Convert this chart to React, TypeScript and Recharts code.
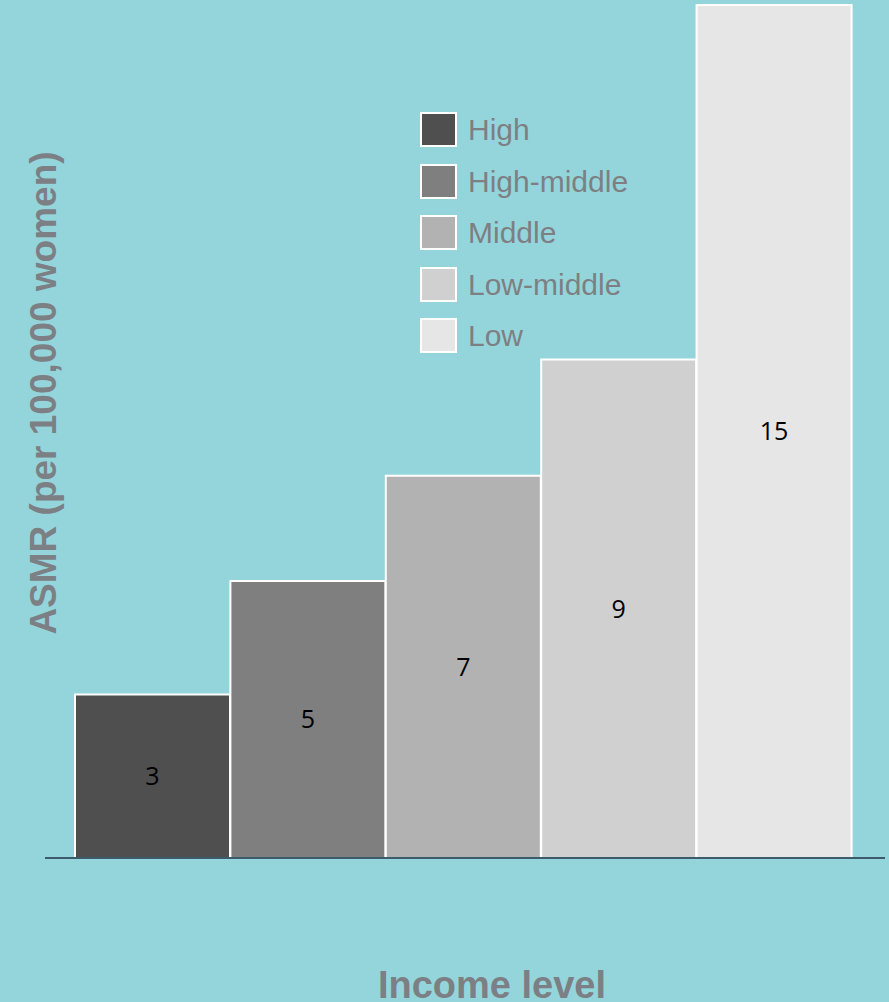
import React from "react"
import { BarChart, Bar, XAxis, YAxis, Cell, LabelList } from "recharts"

// income groups, left to right
const categories = ["High", "High-middle", "Middle", "Low-middle", "Low"]
// ASMR (labels show rounded numbers)
const asmr = [2.95, 5.0, 6.9, 9.0, 15.4]
const barLabels = ["3", "5", "7", "9", "15"]
const fills = ["#4f4f4f", "#7f7f7f", "#b2b2b2", "#d0d0d0", "#e6e6e6"]

const data = categories.map((name, i) => ({ name, value: asmr[i], label: barLabels[i] }))

const BG = "#94d5dc"
const TITLE = "#7c7f84"

export default function App() {
  return (
    <div
      style={{
        position: "absolute",
        left: 0,
        top: 0,
        width: 889,
        height: 1002,
        background: BG,
        overflow: "hidden",
        fontFamily: "'Liberation Sans', Arial, sans-serif",
      }}
    >
      <BarChart
        width={889}
        height={1002}
        data={data}
        margin={{ top: 5, right: 4, bottom: 114, left: 45 }}
        barCategoryGap={0}
      >
        <XAxis
          dataKey="name"
          tick={false}
          tickLine={false}
          height={30}
          padding={{ left: 30, right: 33 }}
          axisLine={{ stroke: "#3e5b6b", strokeWidth: 2 }}
        />
        <YAxis hide domain={[0, 15.4]} />
        <Bar dataKey="value" stroke="#ffffff" strokeWidth={2} isAnimationActive={false}>
          {data.map((d, i) => (
            <Cell key={d.name} fill={fills[i]} />
          ))}
          <LabelList
            dataKey="label"
            position="center"
            offset={0}
            style={{ fill: "#000000", fontSize: 25, fontFamily: "'Open Sans', sans-serif" }}
          />
        </Bar>
      </BarChart>

      {/* legend */}
      <div style={{ position: "absolute", left: 420, top: 112 }}>
        {categories.map((c, i) => (
          <div key={c} style={{ display: "flex", alignItems: "center", height: 35, marginBottom: 16.5 }}>
            <div
              style={{
                width: 33,
                height: 31,
                background: fills[i],
                border: "2px solid #ffffff",
                marginRight: 11,
              }}
            />
            <span style={{ fontSize: 30, color: "#7e7f83", lineHeight: "35px" }}>{c}</span>
          </div>
        ))}
      </div>

      {/* y axis title */}
      <div
        style={{
          position: "absolute",
          left: 44,
          top: 393,
          transform: "translate(-50%, -50%) rotate(-90deg)",
          whiteSpace: "nowrap",
          fontSize: 37,
          fontWeight: "bold",
          letterSpacing: 0,
          color: TITLE,
        }}
      >
        ASMR (per 100,000 women)
      </div>

      {/* x axis title */}
      <div
        style={{
          position: "absolute",
          left: 492,
          top: 985,
          transform: "translate(-50%, -50%)",
          whiteSpace: "nowrap",
          fontSize: 38,
          fontWeight: "bold",
          letterSpacing: 0,
          color: TITLE,
        }}
      >
        Income level
      </div>
    </div>
  )
}
